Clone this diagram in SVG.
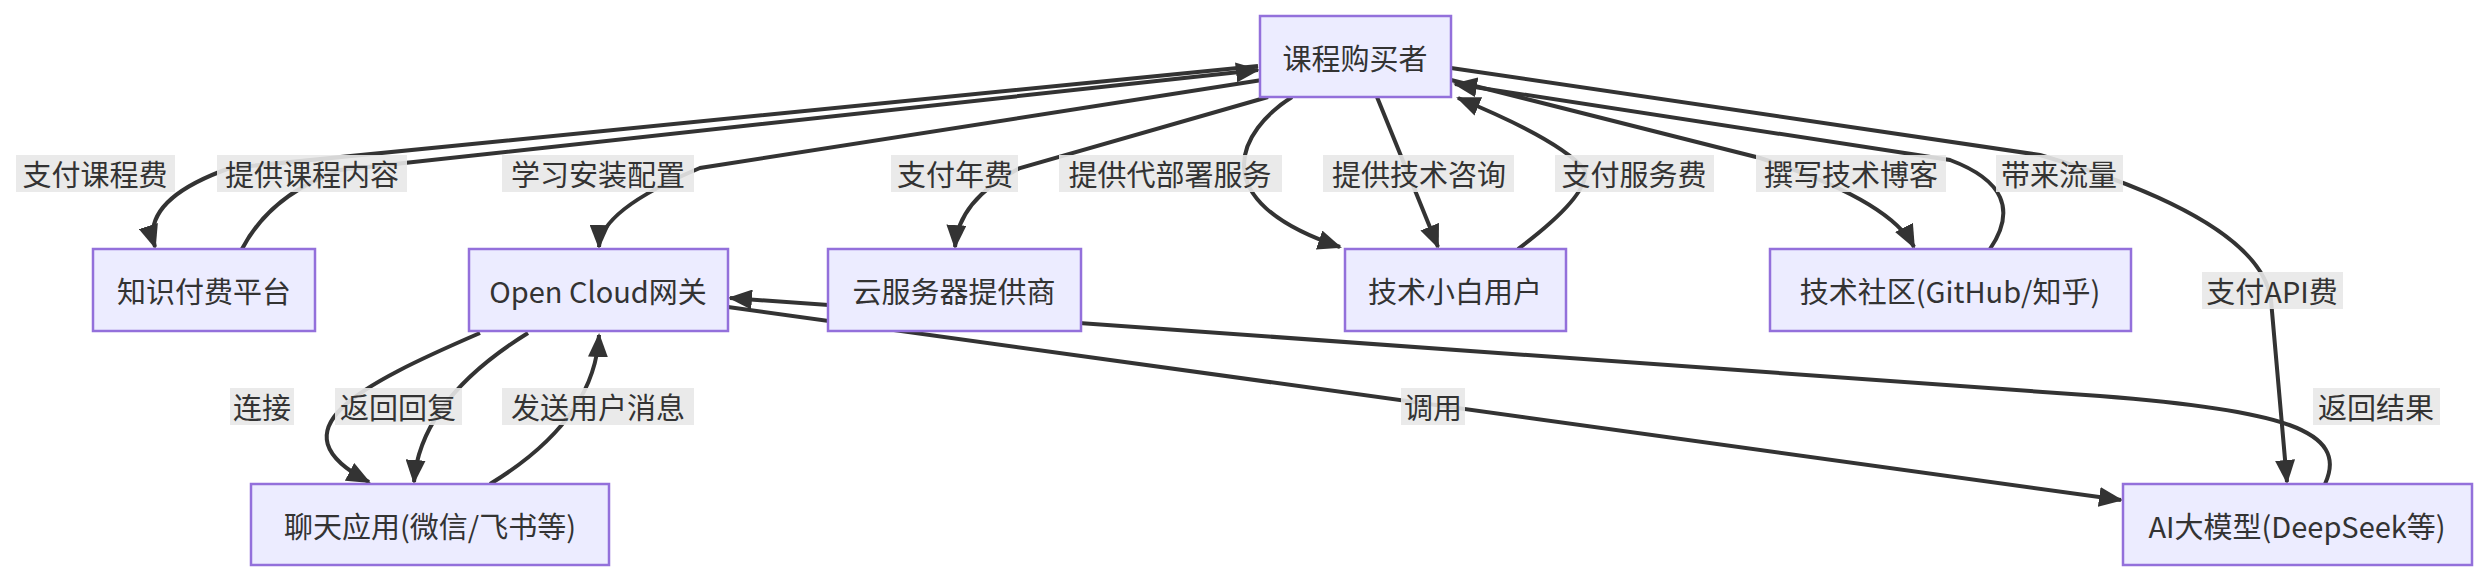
<svg xmlns="http://www.w3.org/2000/svg" width="2488" height="580" viewBox="0 0 2488 580">
<style>
.n rect{fill:#ECECFF;stroke:#9370DB;stroke-width:2.5}
text{font-family:"Noto Sans CJK SC","Liberation Sans",sans-serif;font-size:29px;fill:#333;text-anchor:middle;dominant-baseline:central}
.e path{fill:none;stroke:#333;stroke-width:4}
.l rect{fill:#e8e8e8;opacity:0.9}
</style>
<defs><marker id="a" markerUnits="userSpaceOnUse" markerWidth="24" markerHeight="20" refX="22" refY="10" orient="auto"><path d="M0,0 L24,10 L0,20 Z" fill="#333"/></marker></defs>
<rect width="2488" height="580" fill="#fff"/>
<g class="e" marker-end="url(#a)">
<path d="M1258,66 L230,168 Q140,200 155,247"/>
<path d="M242,249 Q270,195 340,170 L1258,70"/>
<path d="M1262,80 L700,168 Q600,210 599,247"/>
<path d="M1268,97 L1020,168 Q958,200 955,247"/>
<path d="M1292,97 C1240,130 1200,200 1340,247"/>
<path d="M1377,97 L1438,247"/>
<path d="M1518,249 Q1590,195 1585,170 Q1560,140 1458,98"/>
<path d="M1451,80 L1760,158 Q1890,200 1914,247"/>
<path d="M1990,249 Q2030,190 1950,160 L1455,84"/>
<path d="M1451,68 L2040,155 Q2260,220 2271,300 L2287,482"/>
<path d="M728,307 L2121,500"/>
<path d="M2325,484 C2350,430 2280,410 2100,396 L730,298"/>
<path d="M480,333 C360,385 270,430 369,482"/>
<path d="M528,333 Q420,400 414,482"/>
<path d="M490,484 Q595,420 599,335"/>
</g>
<g class="l">
<rect x="16" y="155" width="159" height="37"/><text x="95" y="173">支付课程费</text>
<rect x="217" y="155" width="190" height="37"/><text x="312" y="173">提供课程内容</text>
<rect x="502" y="155" width="192" height="37"/><text x="598" y="173">学习安装配置</text>
<rect x="891" y="155" width="127" height="37"/><text x="955" y="173">支付年费</text>
<rect x="1059" y="155" width="223" height="37"/><text x="1170" y="173">提供代部署服务</text>
<rect x="1323" y="155" width="191" height="37"/><text x="1419" y="173">提供技术咨询</text>
<rect x="1555" y="155" width="159" height="37"/><text x="1634" y="173">支付服务费</text>
<rect x="1756" y="155" width="190" height="37"/><text x="1851" y="173">撰写技术博客</text>
<rect x="1996" y="155" width="127" height="37"/><text x="2059" y="173">带来流量</text>
<rect x="2202" y="272" width="141" height="37"/><text x="2272" y="290">支付API费</text>
<rect x="2313" y="388" width="127" height="37"/><text x="2376" y="406">返回结果</text>
<rect x="1401" y="388" width="64" height="37"/><text x="1433" y="406">调用</text>
<rect x="230" y="388" width="64" height="37"/><text x="262" y="406">连接</text>
<rect x="335" y="388" width="127" height="37"/><text x="398" y="406">返回回复</text>
<rect x="502" y="388" width="192" height="37"/><text x="598" y="406">发送用户消息</text>
</g>
<g id="buyer" class="n"><rect x="1260" y="16" width="191" height="81"/><text x="1355" y="57">课程购买者</text></g>
<g id="platform" class="n"><rect x="93" y="249" width="222" height="82"/><text x="204" y="290">知识付费平台</text></g>
<g id="gateway" class="n"><rect x="469" y="249" width="259" height="82"/><text x="598" y="290">Open Cloud网关</text></g>
<g id="cloud" class="n"><rect x="828" y="249" width="253" height="82"/><text x="954" y="290">云服务器提供商</text></g>
<g id="novice" class="n"><rect x="1345" y="249" width="221" height="82"/><text x="1455" y="290">技术小白用户</text></g>
<g id="community" class="n"><rect x="1770" y="249" width="361" height="82"/><text x="1950" y="290">技术社区(GitHub/知乎)</text></g>
<g id="chat" class="n"><rect x="251" y="484" width="358" height="81"/><text x="430" y="525">聊天应用(微信/飞书等)</text></g>
<g id="ai" class="n"><rect x="2123" y="484" width="349" height="81"/><text x="2297" y="525">AI大模型(DeepSeek等)</text></g>
</svg>
